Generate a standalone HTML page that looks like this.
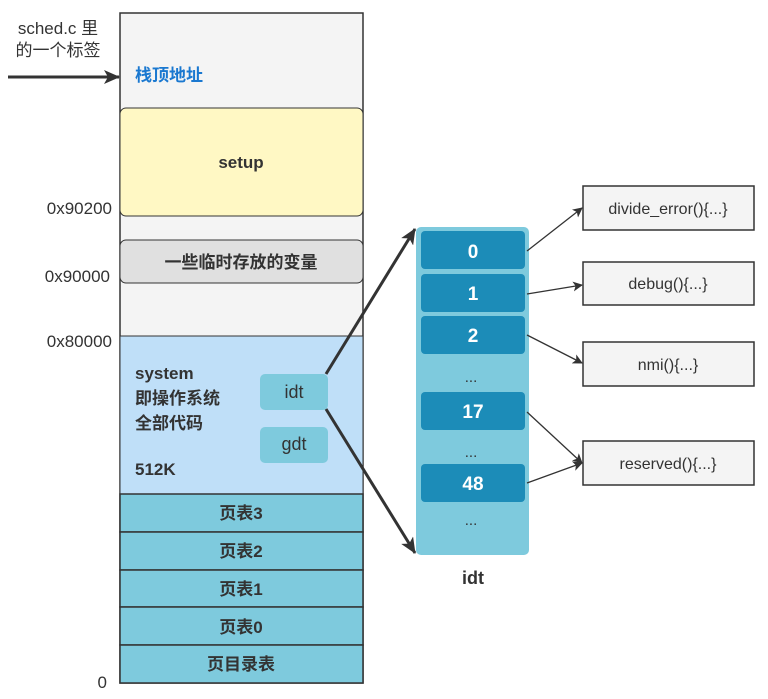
<!DOCTYPE html>
<html><head><meta charset="utf-8"><style>
html,body{margin:0;padding:0;background:#fff;}
svg{display:block;font-family:"Liberation Sans","Noto Sans CJK SC",sans-serif;}
</style></head><body>
<svg width="768" height="699" viewBox="0 0 768 699" xmlns="http://www.w3.org/2000/svg">
<defs>
<marker id="a" markerWidth="10" markerHeight="10" refX="9" refY="5" orient="auto" markerUnits="userSpaceOnUse"><path d="M0,0 L10,5 L0,10 L2.5,5z" fill="#333"/></marker>
<marker id="b" markerWidth="16" markerHeight="14" refX="15" refY="7" orient="auto" markerUnits="userSpaceOnUse"><path d="M0,0 L16,7 L0,14 L4,7z" fill="#333"/></marker>
</defs>
<rect x="120" y="13" width="243" height="670" fill="#f4f4f4" stroke="#333" stroke-width="1.5"/>
<rect x="120" y="108" width="243" height="108" rx="6" fill="#fff8c4" stroke="#333"/>
<text x="241" y="168" font-size="17" font-weight="bold" fill="#333" text-anchor="middle">setup</text>
<rect x="120" y="240" width="243" height="43" rx="6" fill="#e0e0e0" stroke="#333"/>
<text x="241" y="268" font-size="17" font-weight="bold" fill="#333" text-anchor="middle">一些临时存放的变量</text>
<rect x="120" y="336" width="243" height="158" fill="#bfdff8" stroke="#333"/>
<g font-size="17" font-weight="bold" fill="#333">
<text x="135" y="379">system</text><text x="135" y="404">即操作系统</text><text x="135" y="429">全部代码</text><text x="135" y="475">512K</text>
</g>
<rect x="260" y="374" width="68" height="36" rx="5" fill="#7ecadd"/>
<text x="294" y="398" font-size="18" fill="#333" text-anchor="middle">idt</text>
<rect x="260" y="427" width="68" height="36" rx="5" fill="#7ecadd"/>
<text x="294" y="450" font-size="18" fill="#333" text-anchor="middle">gdt</text>
<g fill="#7ecadd" stroke="#333" stroke-width="1.5">
<rect x="120" y="494" width="243" height="38"/><rect x="120" y="532" width="243" height="38"/><rect x="120" y="570" width="243" height="37"/><rect x="120" y="607" width="243" height="38"/><rect x="120" y="645" width="243" height="38"/>
</g>
<g font-size="17" font-weight="bold" fill="#333" text-anchor="middle">
<text x="241" y="519">页表3</text><text x="241" y="557">页表2</text><text x="241" y="595">页表1</text><text x="241" y="633">页表0</text><text x="241" y="670">页目录表</text>
</g>
<text x="135" y="81" font-size="17" font-weight="bold" fill="#1a78d0">栈顶地址</text>
<text x="58" y="34" font-size="17" fill="#333" text-anchor="middle">sched.c 里</text>
<text x="58" y="56" font-size="17" fill="#333" text-anchor="middle">的一个标签</text>
<line x1="8" y1="77" x2="119" y2="77" stroke="#333" stroke-width="3" marker-end="url(#b)"/>
<g font-size="17" fill="#333" text-anchor="end">
<text x="112" y="214">0x90200</text><text x="110" y="282">0x90000</text><text x="112" y="347">0x80000</text><text x="107" y="688">0</text>
</g>
<rect x="416" y="227" width="113" height="328" rx="5" fill="#7ecadd"/>
<g fill="#1c8cb8">
<rect x="421" y="231" width="104" height="38" rx="4"/><rect x="421" y="274" width="104" height="38" rx="4"/><rect x="421" y="316" width="104" height="38" rx="4"/><rect x="421" y="392" width="104" height="38" rx="4"/><rect x="421" y="464" width="104" height="38" rx="4"/>
</g>
<g font-size="19" font-weight="bold" fill="#fff" text-anchor="middle">
<text x="473" y="258">0</text><text x="473" y="300">1</text><text x="473" y="342">2</text><text x="473" y="418">17</text><text x="473" y="490">48</text>
</g>
<g font-size="15" fill="#333" text-anchor="middle">
<text x="471" y="382">...</text><text x="471" y="457">...</text><text x="471" y="525">...</text>
</g>
<text x="473" y="584" font-size="18" font-weight="bold" fill="#333" text-anchor="middle">idt</text>
<g fill="#f4f4f4" stroke="#333" stroke-width="1.5">
<rect x="583" y="186" width="171" height="44"/><rect x="583" y="262" width="171" height="43"/><rect x="583" y="342" width="171" height="44"/><rect x="583" y="441" width="171" height="44"/>
</g>
<g font-size="16" fill="#333" text-anchor="middle">
<text x="668" y="214">divide_error(){...}</text><text x="668" y="289">debug(){...}</text><text x="668" y="370">nmi(){...}</text><text x="668" y="469">reserved(){...}</text>
</g>
<g stroke="#333" stroke-width="3">
<line x1="326" y1="374" x2="415" y2="229" marker-end="url(#b)"/>
<line x1="326" y1="409" x2="415" y2="553" marker-end="url(#b)"/>
</g>
<g stroke="#333" stroke-width="1.3">
<line x1="527" y1="251" x2="582" y2="208" marker-end="url(#a)"/>
<line x1="527" y1="294" x2="582" y2="285" marker-end="url(#a)"/>
<line x1="527" y1="335" x2="582" y2="363" marker-end="url(#a)"/>
<line x1="527" y1="412" x2="582" y2="463" marker-end="url(#a)"/>
<line x1="527" y1="483" x2="582" y2="463" marker-end="url(#a)"/>
</g>
</svg>
</body></html>
